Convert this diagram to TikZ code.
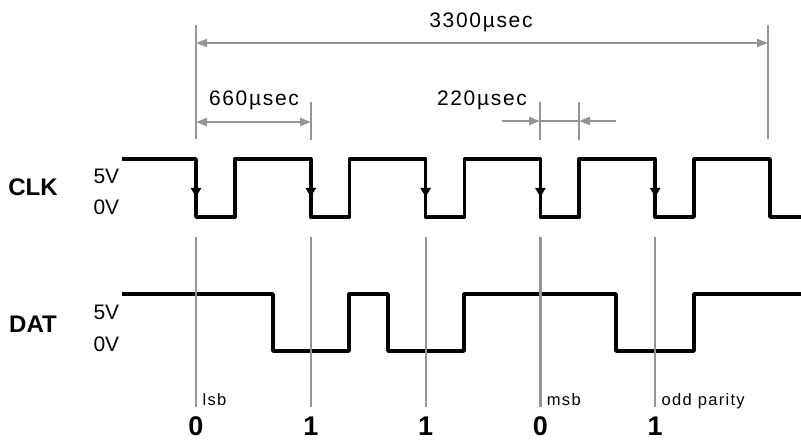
\documentclass[tikz,border=0pt]{standalone}
\usepackage{fontspec}
\setmainfont{Liberation Sans}
\newfontfamily\spacedfont{Liberation Sans}[LetterSpace=8]
\usetikzlibrary{arrows.meta}
\colorlet{guidegray}{black!42}

\begin{document}
\begin{tikzpicture}[x=1pt,y=-1pt,
    wave/.style={line width=3.6pt,line join=round},
    guide/.style={draw=guidegray,line width=2.2pt},
    dimtip/.style={-{Triangle[length=11pt,width=8pt]}},
    dimboth/.style={{Triangle[length=11pt,width=8pt]}-{Triangle[length=11pt,width=8pt]}},
    edgetip/.style={-{Triangle[length=9pt,width=10pt]}},
    timelbl/.style={font=\spacedfont\fontsize{21}{24}\selectfont},
    volt/.style={font=\fontsize{21}{24}\selectfont,anchor=west},
    sig/.style={font=\fontsize{24}{28}\selectfont\bfseries},
    bit/.style={font=\fontsize{27}{30}\selectfont\bfseries,inner sep=0pt},
    note/.style={font=\spacedfont\fontsize{16.5}{19}\selectfont,anchor=base west}]
    	\useasboundingbox (0,0) rectangle (801,441);
    	% signal names and levels
    	\node[sig] (clk) at (33,187) {CLK};
    	\node[volt] (clkhi) at (90,176) {5V};
    	\node[volt] (clklo) at (90,207) {0V};
    	\node[sig] (dat) at (33,324) {DAT};
    	\node[volt] (dathi) at (90,312) {5V};
    	\node[volt] (datlo) at (90,344) {0V};
    	% clock waveform
    	\draw[wave] (122,159) \foreach \k in {0,...,4} { -| ({196+114.8*\k},217) -| ({234.8+114.8*\k},159) } -| (770,217) -- (801,217);
    	\foreach \k in {0,...,4}
    		\draw[wave,edgetip] ({196+114.8*\k},172) -- ({196+114.8*\k},197);
    	% data waveform
    	\draw[wave] (122,294) -| (273,351) -| (349,294) -| (388,351) -| (464,294) -| (616,351) -| (694,294) -- (801,294);
    	% sample lines and bit values
    	\foreach \b [count=\k from 0] in {0,1,1,0,1} {
    		\coordinate (g\k) at ({196+114.8*\k},407);
    		\draw[guide] ({196+114.8*\k},237) -- (g\k);
    		\node[bit] (bit\k) at ({196+114.8*\k},426) {\b};
    	}
    	\node[note] (lsb) at ([xshift=3pt,yshift=2pt]g0) {lsb};
    	\node[note] (msb) at ([xshift=3pt,yshift=2pt]g3) {msb};
    	\node[note] (parity) at ([xshift=3pt,yshift=2pt]g4) {odd parity};
    	% 3300 usec frame
    	\coordinate (fl) at (196,43);
    	\coordinate (fr) at (768,43);
    	\draw[guide] (196,25) -- (196,139);
    	\draw[guide] (768,25) -- (768,139);
    	\draw[guide,dimboth] (fl) -- (fr);
    	\node[timelbl] (frame) at (481,22) {3300µsec};
    	% 660 usec bit period
    	\coordinate (pl) at (196,122);
    	\coordinate (pr) at (311,122);
    	\draw[guide] (311,102) -- (311,140);
    	\draw[guide,dimboth] (pl) -- (pr);
    	\node[timelbl] (period) at (254,100) {660µsec};
    	% 220 usec low pulse
    	\coordinate (ql) at (540,121);
    	\coordinate (qr) at (579,121);
    	\draw[guide] (540,102) -- (540,140);
    	\draw[guide] (579,102) -- (579,140);
    	\draw[guide] (ql) -- (qr);
    	\draw[guide,dimtip] (502,121) -- (ql);
    	\draw[guide,dimtip] (616,121) -- (qr);
    	\node[timelbl] (pulse) at (482,100) {220µsec};
	\end{tikzpicture}
\end{document}
